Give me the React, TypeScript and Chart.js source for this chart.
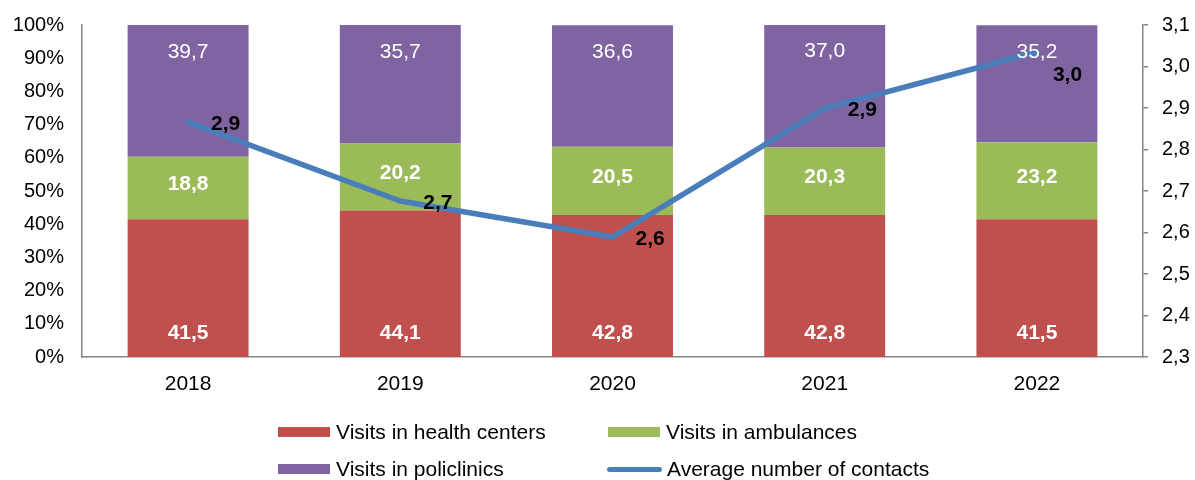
import React, { useEffect, useRef } from "react";
import { Chart, registerables } from "chart.js";

Chart.register(...registerables);

const years = ["2018", "2019", "2020", "2021", "2022"];
const healthCenters = [41.5, 44.1, 42.8, 42.8, 41.5];
const ambulances = [18.8, 20.2, 20.5, 20.3, 23.2];
const policlinics = [39.7, 35.7, 36.6, 37.0, 35.2];
const avgContacts = [2.866, 2.676, 2.589, 2.899, 3.035];

const seriesNames = [
  "Visits in health centers",
  "Visits in ambulances",
  "Visits in policlinics",
  "Average number of contacts",
];

const RED = "#c0504d";
const GREEN = "#9bbb59";
const PURPLE = "#8064a2";
const BLUE = "#4a7ebb";
const AXIS = "#868686";
const FONT = "'Liberation Sans', Arial, sans-serif";

const fmt = (v: number) => v.toFixed(1).replace(".", ",");

const labelPlugin = {
  id: "valueLabels",
  afterDatasetsDraw(chart: any) {
    const ctx = chart.ctx;
    ctx.save();
    chart.data.datasets.forEach((ds: any, di: number) => {
      const meta = chart.getDatasetMeta(di);
      meta.data.forEach((el: any, i: number) => {
        const p = el.getProps(["x", "y", "base"], true);
        const text = fmt(ds.data[i]);
        ctx.textBaseline = "middle";
        if (di === 0) {
          ctx.font = `bold 21px ${FONT}`;
          ctx.fillStyle = "#ffffff";
          ctx.textAlign = "center";
          ctx.fillText(text, p.x, p.base - 24);
        } else if (di === 1) {
          ctx.font = `bold 21px ${FONT}`;
          ctx.fillStyle = "#ffffff";
          ctx.textAlign = "center";
          ctx.fillText(text, p.x, (p.y + p.base) / 2 - 4);
        } else if (di === 2) {
          ctx.font = `21px ${FONT}`;
          ctx.fillStyle = "#ffffff";
          ctx.textAlign = "center";
          ctx.fillText(text, p.x, p.y + 27);
        } else {
          ctx.font = `bold 21px ${FONT}`;
          ctx.fillStyle = "#000000";
          ctx.textAlign = "left";
          const last = i === meta.data.length - 1;
          ctx.fillText(text, p.x + (last ? 16 : 23), p.y + (last ? 23 : 2));
        }
      });
    });
    ctx.restore();
  },
};

export default function App() {
  const ref = useRef<HTMLCanvasElement | null>(null);

  useEffect(() => {
    if (!ref.current) return;
    const chart = new Chart(ref.current, {
      type: "bar",
      data: {
        labels: years,
        datasets: [
          {
            type: "bar",
            label: seriesNames[0],
            data: healthCenters,
            backgroundColor: RED,
            yAxisID: "y",
            order: 1,
            barPercentage: 0.57,
            categoryPercentage: 1,
          },
          {
            type: "bar",
            label: seriesNames[1],
            data: ambulances,
            backgroundColor: GREEN,
            yAxisID: "y",
            order: 1,
            barPercentage: 0.57,
            categoryPercentage: 1,
          },
          {
            type: "bar",
            label: seriesNames[2],
            data: policlinics,
            backgroundColor: PURPLE,
            yAxisID: "y",
            order: 1,
            barPercentage: 0.57,
            categoryPercentage: 1,
          },
          {
            type: "line",
            label: seriesNames[3],
            data: avgContacts,
            borderColor: BLUE,
            backgroundColor: BLUE,
            borderWidth: 5.5,
            pointRadius: 0,
            tension: 0,
            yAxisID: "y1",
            order: 0,
            borderCapStyle: "round",
            borderJoinStyle: "round",
          } as any,
        ],
      },
      options: {
        animation: false,
        responsive: false,
        maintainAspectRatio: false,
        layout: { padding: { top: 25, left: 0, right: 0, bottom: 0 } },
        plugins: {
          legend: { display: false },
          tooltip: { enabled: false },
        },
        scales: {
          x: {
            stacked: true,
            grid: { display: false, drawTicks: false },
            border: { display: true, color: AXIS, width: 1.5 },
            ticks: { color: "#000", font: { family: FONT, size: 21 }, padding: 15 },
            afterFit: (s: any) => {
              s.height = 123;
              s.paddingLeft = 0;
              s.paddingRight = 0;
            },
          },
          y: {
            stacked: true,
            position: "left",
            min: 0,
            max: 100,
            grid: { display: false, drawTicks: false },
            border: { display: true, color: AXIS, width: 1.5 },
            ticks: {
              stepSize: 10,
              color: "#000",
              font: { family: FONT, size: 20 },
              padding: 18,
              callback: (v: any) => `${v}%`,
            },
            afterFit: (s: any) => {
              s.width = 82;
              s.paddingTop = 0;
              s.paddingBottom = 0;
            },
          },
          y1: {
            stacked: false,
            position: "right",
            min: 2.3,
            max: 3.1,
            grid: {
              display: true,
              drawOnChartArea: false,
              drawTicks: true,
              tickLength: 5,
              color: AXIS,
              lineWidth: 1.5,
            },
            border: { display: true, color: AXIS, width: 1.5 },
            ticks: {
              stepSize: 0.1,
              color: "#000",
              font: { family: FONT, size: 20 },
              padding: 14,
              callback: (v: any) => fmt(Number(v)),
            },
            afterFit: (s: any) => {
              s.width = 52;
              s.paddingTop = 0;
              s.paddingBottom = 0;
            },
          },
        },
      } as any,
      plugins: [labelPlugin],
    });
    return () => chart.destroy();
  }, []);

  const legendItem = (
    left: number,
    top: number,
    color: string,
    text: string,
    line = false
  ) => (
    <div
      style={{
        position: "absolute",
        left,
        top: top - 15,
        height: 30,
        display: "flex",
        alignItems: "center",
        fontFamily: FONT,
        fontSize: 21,
        color: "#000",
        whiteSpace: "nowrap",
      }}
    >
      <span
        style={{
          display: "inline-block",
          width: line ? 55 : 52,
          height: line ? 5 : 10,
          borderRadius: line ? 3 : 0,
          background: color,
          marginRight: line ? 5 : 6,
        }}
      />
      <span>{text}</span>
    </div>
  );

  return (
    <div
      style={{
        position: "absolute",
        left: 0,
        top: 0,
        width: 1195,
        height: 480,
        overflow: "hidden",
        background: "#fff",
      }}
    >
      <canvas ref={ref} width={1195} height={480} style={{ display: "block" }} />
      {legendItem(278, 432, RED, seriesNames[0])}
      {legendItem(608, 432, GREEN, seriesNames[1])}
      {legendItem(278, 469, PURPLE, seriesNames[2])}
      {legendItem(607, 469, BLUE, seriesNames[3], true)}
    </div>
  );
}
